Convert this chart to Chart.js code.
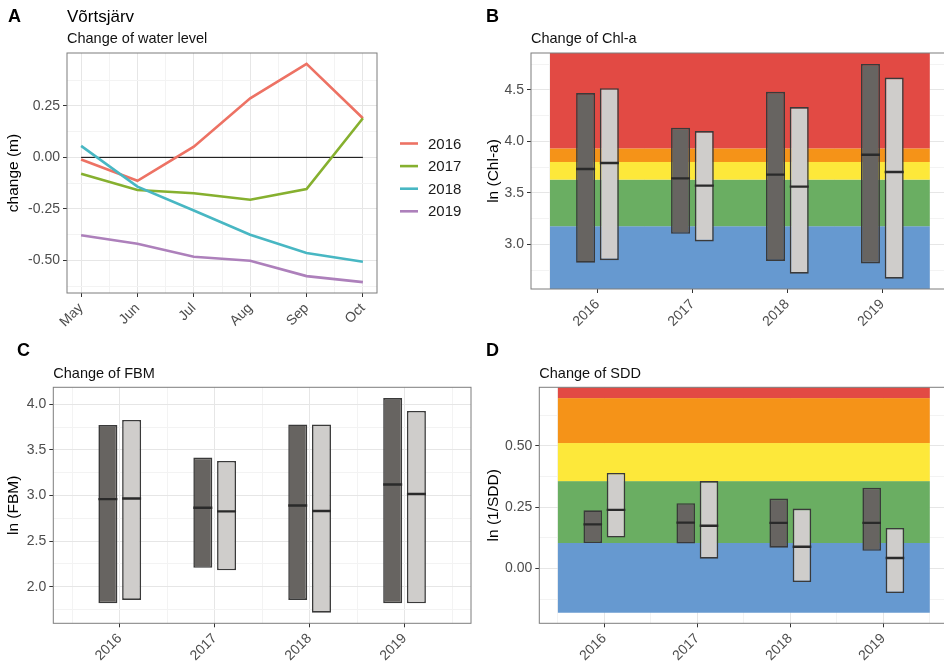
<!DOCTYPE html>
<html lang="en">
<head>
<meta charset="UTF-8">
<title>Võrtsjärv</title>
<script src="https://cdn.jsdelivr.net/npm/chart.js"></script>
<style>
  body { margin: 0; width: 944px; height: 664px; overflow: hidden; background: #fff; position: relative; }
  canvas { position: absolute; }
</style>
</head>
<body>
<canvas id="panelA" width="480" height="330" style="left:0;top:0"></canvas>
<canvas id="panelB" width="470" height="330" style="left:480px;top:0"></canvas>
<canvas id="panelC" width="480" height="334" style="left:0;top:330px"></canvas>
<canvas id="panelD" width="470" height="334" style="left:480px;top:330px"></canvas>
<script>
// ---- data ----
const months = ['May', 'Jun', 'Jul', 'Aug', 'Sep', 'Oct'];
const lineYears = ['2016', '2017', '2018', '2019'];
const level2016 = [-0.01, -0.114, 0.052, 0.287, 0.454, 0.19];
const level2017 = [-0.08, -0.159, -0.174, -0.206, -0.154, 0.19];
const level2018 = [0.056, -0.142, -0.258, -0.376, -0.465, -0.507];
const level2019 = [-0.378, -0.42, -0.483, -0.502, -0.577, -0.606];
const levelRef = 0;

const years = ['2016', '2017', '2018', '2019'];

const chlDarkLow = [2.823, 3.103, 2.84, 2.816];
const chlDarkHigh = [4.468, 4.132, 4.48, 4.751];
const chlDarkMedian = [3.732, 3.641, 3.677, 3.87];
const chlLightLow = [2.848, 3.029, 2.717, 2.668];
const chlLightHigh = [4.516, 4.10, 4.333, 4.619];
const chlLightMedian = [3.79, 3.571, 3.561, 3.703];
const chlClassEdges = [-Infinity, 3.177, 3.629, 3.80, 3.932, Infinity];

const fbmDarkLow = [1.818, 2.207, 1.854, 1.818];
const fbmDarkHigh = [3.773, 3.416, 3.78, 4.069];
const fbmDarkMedian = [2.96, 2.866, 2.89, 3.12];
const fbmLightLow = [1.854, 2.179, 1.715, 1.818];
const fbmLightHigh = [3.828, 3.379, 3.78, 3.927];
const fbmLightMedian = [2.967, 2.826, 2.83, 3.017];

const sddDarkLow = [0.104, 0.102, 0.085, 0.072];
const sddDarkHigh = [0.237, 0.266, 0.285, 0.329];
const sddDarkMedian = [0.18, 0.187, 0.186, 0.186];
const sddLightLow = [0.126, 0.04, -0.055, -0.1];
const sddLightHigh = [0.389, 0.356, 0.244, 0.165];
const sddLightMedian = [0.239, 0.174, 0.089, 0.043];
const sddClassEdges = [-0.18, 0.104, 0.356, 0.511, 0.694, Infinity];

const levelTicks = [-0.5, -0.25, 0, 0.25];
const chlTicks = [3.0, 3.5, 4.0, 4.5];
const fbmTicks = [2.0, 2.5, 3.0, 3.5, 4.0];
const sddTicks = [0, 0.25, 0.5];

// ---- styles ----
const FONT = "'Liberation Sans', Arial, sans-serif";
Chart.defaults.font.family = FONT;
const lineColors = ['#ed7264', '#86b02f', '#48b7c3', '#ad80bb'];
const classColors = ['#6699d0', '#6aae62', '#fde83a', '#f59318', '#e24a44'];
const darkFill = '#676461';
const lightFill = '#cfcdcb';

function isMajor(majors, v) {
  return majors.some(m => Math.abs(m - v) < 1e-9);
}

// major ticks plus the half-way minor grid lines, inside the axis range
function gridTicks(majors, min, max) {
  const step = majors[1] - majors[0];
  const vals = [];
  majors.forEach(m => vals.push(m - step / 2, m));
  vals.push(majors[majors.length - 1] + step / 2);
  return vals.filter(v => v >= min && v <= max).map(v => ({ value: v }));
}

function gridStyle(majors) {
  return {
    color: c => (c.tick && isMajor(majors, c.tick.value)) ? '#e6e6e6' : '#f3f3f3',
    tickColor: c => (c.tick && isMajor(majors, c.tick.value)) ? '#333' : 'rgba(0,0,0,0)',
    tickLength: 4,
    lineWidth: 1,
    offset: false
  };
}

function yAxis(majors, min, max, digits, title, width) {
  return {
    type: 'linear', min, max, bounds: 'data',
    afterBuildTicks: s => { s.ticks = gridTicks(majors, min, max); },
    afterFit: s => { s.width = width; },
    ticks: {
      autoSkip: false, color: '#4d4d4d', font: { size: 14 }, padding: 3,
      callback: v => isMajor(majors, v) ? v.toFixed(digits) : ''
    },
    grid: gridStyle(majors),
    border: { display: false },
    title: { display: true, text: title, color: '#000', font: { size: 15.5 } }
  };
}

function xAxis(majors, labels, min, max, height) {
  return {
    type: 'linear', min, max, bounds: 'data', offset: false,
    afterBuildTicks: s => { s.ticks = gridTicks(majors, min, max); },
    afterFit: s => { s.height = height; },
    ticks: {
      autoSkip: false, color: '#4d4d4d', font: { size: 14 }, padding: 3,
      minRotation: 45, maxRotation: 45,
      callback: v => isMajor(majors, v) ? labels[Math.round(v)] : ''
    },
    grid: gridStyle(majors),
    border: { display: false }
  };
}

// panel letter, titles, colour classes, medians, frame and legend
function panelDecor(spec) {
  return {
    id: 'decor' + spec.letter,
    beforeDatasetsDraw(chart) {
      if (!spec.classEdges) return;
      const { ctx, chartArea: a, scales: { x, y } } = chart;
      const clamp = p => Math.min(Math.max(p, a.top), a.bottom);
      const x0 = x.getPixelForValue(-0.5);
      const x1 = x.getPixelForValue(years.length - 0.5);
      ctx.save();
      classColors.forEach((col, i) => {
        const top = clamp(y.getPixelForValue(spec.classEdges[i + 1]));
        const bottom = clamp(y.getPixelForValue(spec.classEdges[i]));
        ctx.fillStyle = col;
        ctx.fillRect(x0, top, x1 - x0, bottom - top);
      });
      ctx.restore();
    },
    afterDatasetsDraw(chart) {
      const { ctx, chartArea: a, scales: { y } } = chart;
      ctx.save();
      chart.data.datasets.forEach((ds, di) => {
        if (!ds.medians) return;
        const meta = chart.getDatasetMeta(di);
        ctx.strokeStyle = '#2a2a2a';
        ctx.lineWidth = 2.4;
        ctx.beginPath();
        meta.data.forEach((bar, i) => {
          const py = y.getPixelForValue(ds.medians[i]);
          ctx.moveTo(bar.x - bar.width / 2, py);
          ctx.lineTo(bar.x + bar.width / 2, py);
        });
        ctx.stroke();
      });
      ctx.strokeStyle = '#7d7d7d';
      ctx.lineWidth = 1;
      ctx.strokeRect(a.left, a.top, a.right - a.left, a.bottom - a.top);
      ctx.restore();
    },
    afterDraw(chart) {
      const { ctx, chartArea: a } = chart;
      ctx.save();
      ctx.fillStyle = '#000';
      ctx.textBaseline = 'alphabetic';
      ctx.textAlign = 'left';
      ctx.font = 'bold 18px ' + FONT;
      ctx.fillText(spec.letter, spec.letterX, spec.letterY);
      if (spec.title) {
        ctx.font = '17px ' + FONT;
        ctx.fillText(spec.title, a.left, spec.letterY);
      }
      ctx.font = '14.5px ' + FONT;
      ctx.fillStyle = '#111';
      ctx.fillText(spec.subtitle, a.left, spec.subtitleY);
      if (spec.legend) {
        ctx.textBaseline = 'middle';
        ctx.font = '15px ' + FONT;
        let yy = 143.5;
        chart.data.datasets.forEach(ds => {
          if (!lineYears.includes(ds.label)) return;
          ctx.strokeStyle = ds.borderColor;
          ctx.lineWidth = 2.6;
          ctx.beginPath();
          ctx.moveTo(400, yy);
          ctx.lineTo(418, yy);
          ctx.stroke();
          ctx.fillStyle = '#1a1a1a';
          ctx.fillText(ds.label, 428, yy + 1);
          yy += 22.6;
        });
      }
      ctx.restore();
    }
  };
}

const baseOptions = {
  responsive: false,
  animation: false,
  devicePixelRatio: 1,
  events: []
};

// ---- A: water level lines ----
const levelSeries = [level2016, level2017, level2018, level2019];
const lineSets = levelSeries.map((vals, k) => ({
  label: lineYears[k],
  data: vals.map((v, i) => ({ x: i, y: v })),
  borderColor: lineColors[k],
  borderWidth: 2.6,
  pointRadius: 0,
  tension: 0,
  order: 4 - k
}));
lineSets.push({
  label: 'ref',
  data: [{ x: 0, y: levelRef }, { x: months.length - 1, y: levelRef }],
  borderColor: '#000',
  borderWidth: 1,
  pointRadius: 0,
  order: 10
});

new Chart(document.getElementById('panelA'), {
  type: 'line',
  data: { datasets: lineSets },
  options: Object.assign({}, baseOptions, {
    layout: { padding: { top: 53, right: 103, bottom: 0, left: 0 } },
    plugins: { legend: { display: false }, tooltip: { enabled: false } },
    scales: {
      x: xAxis([0, 1, 2, 3, 4, 5], months, -0.25, 5.25, 37),
      y: yAxis(levelTicks, -0.659, 0.507, 2, 'change (m)', 67)
    }
  }),
  plugins: [panelDecor({ letter: 'A', letterX: 8, letterY: 21.5, title: 'Võrtsjärv',
    subtitle: 'Change of water level', subtitleY: 43.3, legend: true })]
});

// ---- B, C, D: boxes ----
// the bar ruler sees the half-step grid ticks, so the group spans a full "ruler" step
function boxSets(darkLow, darkHigh, darkMed, lightLow, lightHigh, lightMed) {
  const toBars = (lo, hi) => lo.map((v, i) => ({ x: i, y: [v, hi[i]] }));
  const common = {
    borderColor: '#3a3a3a', borderWidth: 1.6, borderSkipped: false,
    categoryPercentage: 1.0, barPercentage: 0.8
  };
  return [
    Object.assign({ data: toBars(darkLow, darkHigh), medians: darkMed, backgroundColor: darkFill }, common),
    Object.assign({ data: toBars(lightLow, lightHigh), medians: lightMed, backgroundColor: lightFill }, common)
  ];
}

function boxPanel(id, sets, yopts, pad, decor) {
  new Chart(document.getElementById(id), {
    type: 'bar',
    data: { datasets: sets },
    options: Object.assign({}, baseOptions, {
      layout: { padding: pad },
      plugins: { legend: { display: false }, tooltip: { enabled: false } },
      scales: {
        x: xAxis([0, 1, 2, 3], years, -0.7, 3.7, yopts.xHeight),
        y: yAxis(yopts.ticks, yopts.min, yopts.max, yopts.digits, yopts.title, yopts.width)
      }
    }),
    plugins: [panelDecor(decor)]
  });
}

boxPanel('panelB',
  boxSets(chlDarkLow, chlDarkHigh, chlDarkMedian, chlLightLow, chlLightHigh, chlLightMedian),
  { ticks: chlTicks, min: 2.568, max: 4.857, digits: 1, title: 'ln (Chl-a)', width: 51, xHeight: 41 },
  { top: 53, right: 1.2, bottom: 0, left: 0 },
  { letter: 'B', letterX: 6, letterY: 21.5, subtitle: 'Change of Chl-a', subtitleY: 43.3, classEdges: chlClassEdges });

boxPanel('panelC',
  boxSets(fbmDarkLow, fbmDarkHigh, fbmDarkMedian, fbmLightLow, fbmLightHigh, fbmLightMedian),
  { ticks: fbmTicks, min: 1.598, max: 4.187, digits: 1, title: 'ln (FBM)', width: 53.3, xHeight: 40.7 },
  { top: 57.3, right: 9, bottom: 0, left: 0 },
  { letter: 'C', letterX: 17, letterY: 26, subtitle: 'Change of FBM', subtitleY: 48.3 });

boxPanel('panelD',
  boxSets(sddDarkLow, sddDarkHigh, sddDarkMedian, sddLightLow, sddLightHigh, sddLightMedian),
  { ticks: sddTicks, min: -0.223, max: 0.738, digits: 2, title: 'ln (1/SDD)', width: 59.3, xHeight: 40.7 },
  { top: 57.3, right: 1.6, bottom: 0, left: 0 },
  { letter: 'D', letterX: 6, letterY: 26, subtitle: 'Change of SDD', subtitleY: 48.3, classEdges: sddClassEdges });
</script>
</body>
</html>
